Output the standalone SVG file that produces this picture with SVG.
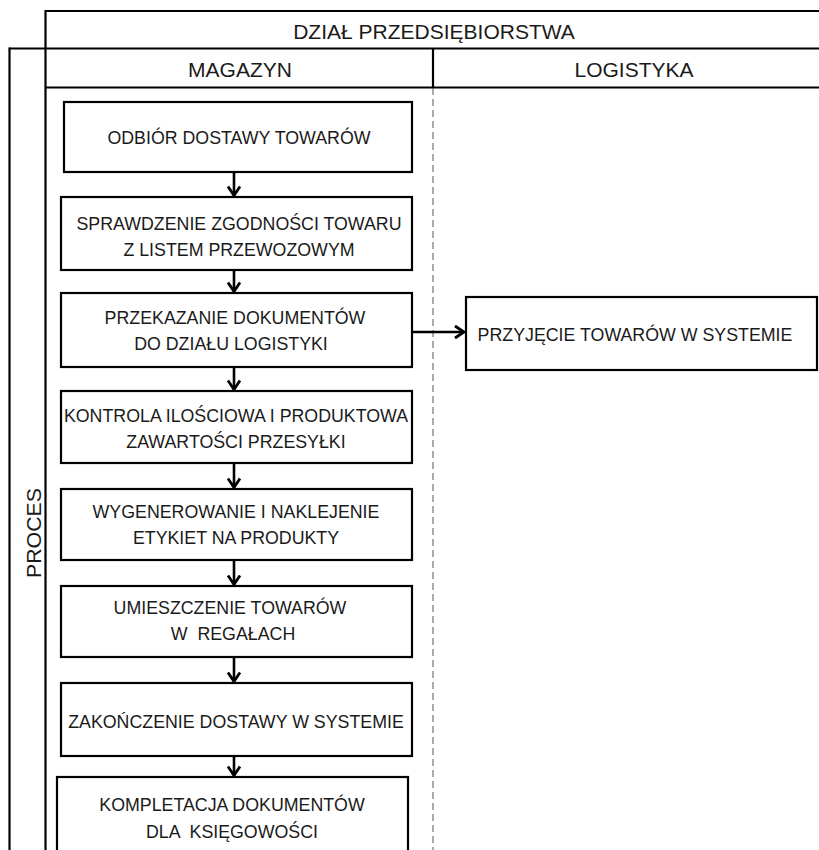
<svg xmlns="http://www.w3.org/2000/svg" width="819" height="850" viewBox="0 0 819 850">
<style>
  .t { font-family: "Liberation Sans", Arial, sans-serif; font-size: 17.8px; fill: #1a1a1a; text-anchor: middle; }
  .h { font-family: "Liberation Sans", Arial, sans-serif; font-size: 21px; fill: #1a1a1a; text-anchor: middle; }
  .frame { fill: none; stroke: #000; stroke-width: 2.2; }
  .box { fill: #fff; stroke: #000; stroke-width: 2.2; }
  .conn { fill: none; stroke: #000; stroke-width: 2.6; }
  .head { fill: none; stroke: #000; stroke-width: 2.8; stroke-linejoin: miter; }
</style>
<rect width="819" height="850" fill="#fff"/>
<g id="frame">
  <line class="frame" x1="45" y1="11" x2="819" y2="11"/>
  <line class="frame" x1="9" y1="48.5" x2="819" y2="48.5"/>
  <line class="frame" x1="45" y1="87.5" x2="819" y2="87.5"/>
  <line class="frame" x1="45.5" y1="10" x2="45.5" y2="850"/>
  <line class="frame" x1="9.5" y1="47.5" x2="9.5" y2="850"/>
  <line class="frame" x1="433" y1="48.5" x2="433" y2="87.5"/>
  <line x1="433" y1="88" x2="433" y2="850" stroke="#555" stroke-width="1" stroke-dasharray="7 4"/>
  <text class="h" x="434" y="38.5" font-size="20">DZIAŁ PRZEDSIĘBIORSTWA</text>
  <text class="h" x="240" y="76.5">MAGAZYN</text>
  <text class="h" x="634" y="76.5">LOGISTYKA</text>
  <text class="h" transform="translate(41,533) rotate(-90)" x="0" y="0" font-size="34" textLength="90" lengthAdjust="spacingAndGlyphs">PROCES</text>
</g>
<g id="n1"><rect class="box" x="64" y="102" width="348" height="70"/><text class="t" x="239" y="143.5">ODBIÓR DOSTAWY TOWARÓW</text></g>
<g id="n2"><rect class="box" x="61" y="197" width="351" height="73"/><text class="t" x="239" y="229.5">SPRAWDZENIE ZGODNOŚCI TOWARU</text><text class="t" x="239" y="256">Z LISTEM PRZEWOZOWYM</text></g>
<g id="n3"><rect class="box" x="61" y="293" width="351" height="74"/><text class="t" x="235" y="323.5">PRZEKAZANIE DOKUMENTÓW</text><text class="t" x="231" y="349.5">DO DZIAŁU LOGISTYKI</text></g>
<g id="n4"><rect class="box" x="61" y="391" width="351" height="72"/><text class="t" x="236" y="421.5">KONTROLA ILOŚCIOWA I PRODUKTOWA</text><text class="t" x="236" y="447.5">ZAWARTOŚCI PRZESYŁKI</text></g>
<g id="n5"><rect class="box" x="61" y="489" width="351" height="71"/><text class="t" x="236" y="518">WYGENEROWANIE I NAKLEJENIE</text><text class="t" x="236" y="543.5">ETYKIET NA PRODUKTY</text></g>
<g id="n6"><rect class="box" x="61" y="586" width="351" height="71"/><text class="t" x="230" y="614">UMIESZCZENIE TOWARÓW</text><text class="t" x="233" y="639.5" xml:space="preserve">W  REGAŁACH</text></g>
<g id="n7"><rect class="box" x="61" y="683" width="351" height="73"/><text class="t" x="236" y="727.5">ZAKOŃCZENIE DOSTAWY W SYSTEMIE</text></g>
<g id="n8"><rect class="box" x="57" y="777" width="351" height="80"/><text class="t" x="232" y="810.5">KOMPLETACJA DOKUMENTÓW</text><text class="t" x="232" y="837.5" xml:space="preserve">DLA  KSIĘGOWOŚCI</text></g>
<g id="n9"><rect class="box" x="466" y="297" width="351" height="73"/><text class="t" x="635" y="340.5">PRZYJĘCIE TOWARÓW W SYSTEMIE</text></g>
<g id="connectors">
  <line class="conn" x1="234" y1="172" x2="234" y2="195.5"/><polyline class="head" points="228,186.5 234,195.5 240,186.5"/>
  <line class="conn" x1="234" y1="270" x2="234" y2="291.5"/><polyline class="head" points="228,282.5 234,291.5 240,282.5"/>
  <line class="conn" x1="234" y1="367" x2="234" y2="389.5"/><polyline class="head" points="228,380.5 234,389.5 240,380.5"/>
  <line class="conn" x1="234" y1="463" x2="234" y2="487.5"/><polyline class="head" points="228,478.5 234,487.5 240,478.5"/>
  <line class="conn" x1="234" y1="560" x2="234" y2="584.5"/><polyline class="head" points="228,575.5 234,584.5 240,575.5"/>
  <line class="conn" x1="234" y1="657" x2="234" y2="681.5"/><polyline class="head" points="228,672.5 234,681.5 240,672.5"/>
  <line class="conn" x1="234" y1="756" x2="234" y2="775.5"/><polyline class="head" points="228,766.5 234,775.5 240,766.5"/>
  <line class="conn" x1="412" y1="332" x2="464" y2="332"/><polyline class="head" points="455,326 464,332 455,338"/>
</g>
</svg>
